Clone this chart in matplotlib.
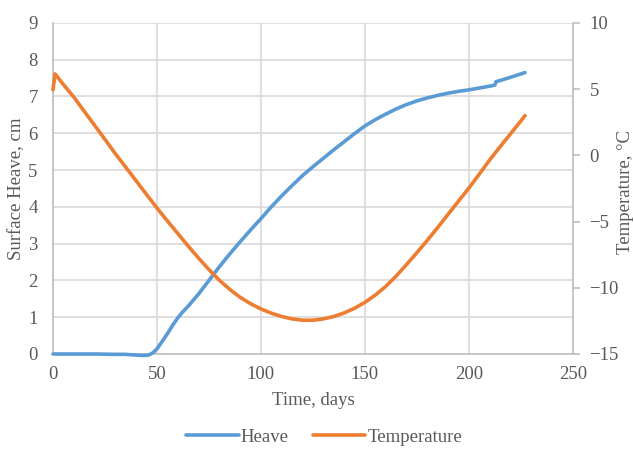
import matplotlib
matplotlib.use("Agg")
import matplotlib.pyplot as plt

# Data
heave_days = [0, 10, 20, 30, 35, 40, 43, 46, 48, 50, 52, 55, 58, 60, 62, 65, 70, 75, 80,
              85, 90, 95, 100, 105, 110, 115, 120, 125, 130, 135, 140, 145, 150, 155,
              160, 165, 170, 175, 180, 185, 190, 195, 200, 205, 210, 212.5, 213, 220, 227]
heave_cm = [0.0, 0.0, 0.0, -0.01, -0.01, -0.03, -0.04, -0.03, 0.03, 0.14, 0.3, 0.55,
            0.82, 0.98, 1.12, 1.3, 1.63, 2.0, 2.37, 2.72, 3.05, 3.37, 3.68, 4.0, 4.3,
            4.58, 4.85, 5.09, 5.32, 5.55, 5.77, 5.99, 6.2, 6.37, 6.52, 6.66, 6.78, 6.88,
            6.96, 7.03, 7.09, 7.14, 7.18, 7.23, 7.28, 7.31, 7.4, 7.52, 7.65]

temp_days = [0, 1, 5, 10, 15, 20, 25, 30, 35, 40, 45, 50, 55, 60, 65, 70, 75, 80, 85,
             90, 95, 100, 105, 110, 115, 120, 125, 130, 135, 140, 145, 150, 155, 160,
             165, 170, 175, 180, 185, 190, 195, 200, 205, 210, 215, 220, 225, 227]
temp_c = [4.95, 6.15, 5.35, 4.4, 3.33, 2.27, 1.2, 0.12, -0.9, -1.93, -2.96, -3.98, -4.95,
          -5.9, -6.85, -7.76, -8.63, -9.43, -10.12, -10.72, -11.2, -11.6, -11.92,
          -12.17, -12.35, -12.45, -12.45, -12.35, -12.17, -11.9, -11.55, -11.1, -10.55,
          -9.9, -9.12, -8.25, -7.35, -6.42, -5.45, -4.45, -3.46, -2.47, -1.42, -0.35,
          0.65, 1.62, 2.6, 3.0]

x_ticks = [0, 50, 100, 150, 200, 250]
heave_ticks = list(range(0, 10))
temp_ticks = [-15, -10, -5, 0, 5, 10]

BLUE = "#5B9BD5"
ORANGE = "#ED7D31"
TXT = "#595959"
GRID = "#D9D9D9"
SPINE = "#BFBFBF"

plt.rcParams['font.family'] = ['Liberation Serif', 'DejaVu Serif']

fig = plt.figure(figsize=(6.33, 4.49), dpi=100)
ax = fig.add_axes([0.0837, 0.2116, 0.8213, 0.7374])
ax2 = ax.twinx()

l1, = ax.plot(heave_days, heave_cm, color=BLUE, lw=2.6, solid_capstyle='round',
              solid_joinstyle='round', label='Heave', clip_on=False, zorder=5)
l2, = ax2.plot(temp_days, temp_c, color=ORANGE, lw=2.6, solid_capstyle='round',
               solid_joinstyle='round', label='Temperature', clip_on=False)

ax.set_xlim(0, 250)
ax.set_ylim(0, 9)
ax2.set_ylim(-15, 10)
ax.set_xticks(x_ticks)
ax.set_yticks(heave_ticks)
ax2.set_yticks(temp_ticks)

ax.grid(True, color=GRID, lw=1.2)
ax.set_axisbelow(True)

for a in (ax, ax2):
    a.spines['top'].set_visible(False)
    for s in ('left', 'right', 'bottom'):
        a.spines[s].set_color(SPINE)
        a.spines[s].set_linewidth(1.2)
ax.spines['right'].set_visible(False)
ax2.spines['left'].set_visible(False)
ax2.spines['bottom'].set_visible(False)

FS = 13.5
ax.tick_params(axis='y', length=0, colors=TXT, labelsize=FS, pad=11)
ax.tick_params(axis='x', length=0, colors=TXT, labelsize=FS, pad=9)
ax2.tick_params(axis='y', length=5, color=SPINE, width=1.2, labelcolor=TXT,
                labelsize=FS, pad=7)

ax.set_xlabel('Time, days', color=TXT, fontsize=FS)
ax.xaxis.set_label_coords(0.5, -0.115)
ax.set_ylabel('Surface Heave, cm', color=TXT, fontsize=FS)
ax.yaxis.set_label_coords(-0.053, 0.5)
ax2.set_ylabel('Temperature, °C', color=TXT, fontsize=FS, rotation=90)
ax2.yaxis.set_label_coords(1.084, 0.49)

leg = fig.legend([l1, l2], ['Heave', 'Temperature'], loc='center',
                 bbox_to_anchor=(0.512, 0.026), ncol=2, frameon=False,
                 fontsize=FS, handlelength=2.8, handletextpad=0.1,
                 columnspacing=1.3, labelcolor=TXT)

fig.savefig('out.png', dpi=100)
